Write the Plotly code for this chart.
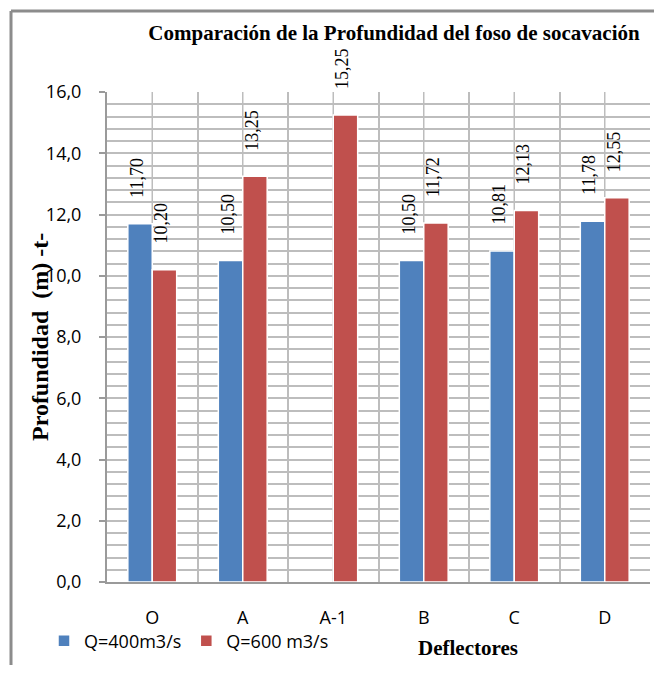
import plotly.graph_objects as go

categories = ["O", "A", "A-1", "B", "C", "D"]
q400 = [11.70, 10.50, None, 10.50, 10.81, 11.78]
q600 = [10.20, 13.25, 15.25, 11.72, 12.13, 12.55]
series_names = ["Q=400m3/s", "Q=600 m3/s"]
colors = ["#4F81BD", "#C0504D"]
y_ticks = [0, 2, 4, 6, 8, 10, 12, 14, 16]

title_text = "Comparación de la Profundidad del foso de socavación"
y_title = "Profundidad  (m) -t-"
x_title = "Deflectores"

SANS = "Open Sans, Liberation Sans, sans-serif"
SERIF = "Liberation Serif, Times New Roman, serif"
GRID = "#bdbdbd"
BARGAP = 0.46

# page has an 8px body margin; work in figure coordinates
W, H = 646, 657
PL, PT, PR, PB = 99, 84, 642, 574   # plot area in figure px
PW, PH = PR - PL, PB - PT


def px(xp):
    return (xp - PL) / PW


def py(yp):
    return (PB - yp) / PH


fig = go.Figure()
for name, vals, col in zip(series_names, [q400, q600], colors):
    fig.add_trace(go.Bar(
        x=categories, y=vals, name=name,
        marker=dict(color=col, line=dict(color="white", width=1.5)),
    ))

# data labels (rotated, serif) above each bar
off = (1 - BARGAP) / 4
annotations = []
for k, vals in enumerate([q400, q600]):
    for i, v in enumerate(vals):
        if v is None:
            continue
        annotations.append(dict(
            x=i + (-off if k == 0 else off), y=v, xref="x", yref="y",
            text=f"{v:.2f}".replace(".", ","), textangle=-90,
            showarrow=False, xanchor="center", yanchor="bottom",
            yshift=24, xshift=-3,
            font=dict(family=SERIF, size=18, color="#000"),
        ))

annotations.append(dict(
    text=f"<b>{y_title}</b>", textangle=-90, showarrow=False,
    xref="paper", yref="paper", x=px(32), y=0.5,
    xanchor="center", yanchor="middle",
    font=dict(family=SERIF, size=24, color="#000"),
))
annotations.append(dict(
    text=f"<b>{x_title}</b>", showarrow=False,
    xref="paper", yref="paper", x=px(460), y=py(640),
    xanchor="center", yanchor="middle",
    font=dict(family=SERIF, size=21, color="#000"),
))

shapes = []
# vertical gridlines at category centers
for c in categories:
    shapes.append(dict(type="line", xref="x", yref="paper", x0=c, x1=c, y0=0, y1=1,
                       line=dict(color=GRID, width=1.5), layer="below"))
# outer chart border (left and top)
bx = px(3)
by = py(3)
shapes.append(dict(type="line", xref="paper", yref="paper", x0=bx, x1=bx, y0=py(H + 20), y1=by,
                   line=dict(color="#8c8c8c", width=3)))
shapes.append(dict(type="line", xref="paper", yref="paper", x0=bx, x1=px(W + 20), y0=by, y1=by,
                   line=dict(color="#8c8c8c", width=3)))

fig.update_layout(
    template="none",
    width=W, height=H,
    margin=dict(l=PL, r=W - PR, t=PT, b=H - PB),
    paper_bgcolor="white", plot_bgcolor="white",
    separators=",.",
    barmode="group", bargap=BARGAP, bargroupgap=0.0,
    title=dict(text=f"<b>{title_text}</b>", xref="container", yref="container",
               x=386 / W, y=1 - 25 / H, xanchor="center", yanchor="middle",
               font=dict(family=SERIF, size=21, color="#000")),
    showlegend=True,
    legend=dict(orientation="h", x=px(36), y=py(633),
                xanchor="left", yanchor="middle",
                font=dict(family=SANS, size=18, color="#000"),
                bgcolor="rgba(0,0,0,0)", itemclick=False),
    annotations=annotations,
    shapes=shapes,
)

fig.update_yaxes(
    range=[0, 16], tickmode="array", tickvals=y_ticks, tickformat=".1f",
    showgrid=True, gridcolor=GRID, gridwidth=1.5,
    minor=dict(dtick=0.4, showgrid=True, gridcolor=GRID, gridwidth=1.5),
    showline=True, linecolor="#9a9a9a", linewidth=2,
    ticks="outside", ticklen=6, tickcolor="#9a9a9a", tickwidth=2,
    ticklabelstandoff=14,
    tickfont=dict(family=SANS, size=18, color="#000"),
    zeroline=False, automargin=False,
)
fig.update_xaxes(
    type="category", tickson="boundaries",
    showgrid=True, gridcolor=GRID, gridwidth=1.5,
    showline=True, linecolor="#9a9a9a", linewidth=2,
    ticks="", ticklabelstandoff=18,
    tickfont=dict(family=SANS, size=18, color="#000"),
    zeroline=False, automargin=False,
)

fig.write_html("out.html")
